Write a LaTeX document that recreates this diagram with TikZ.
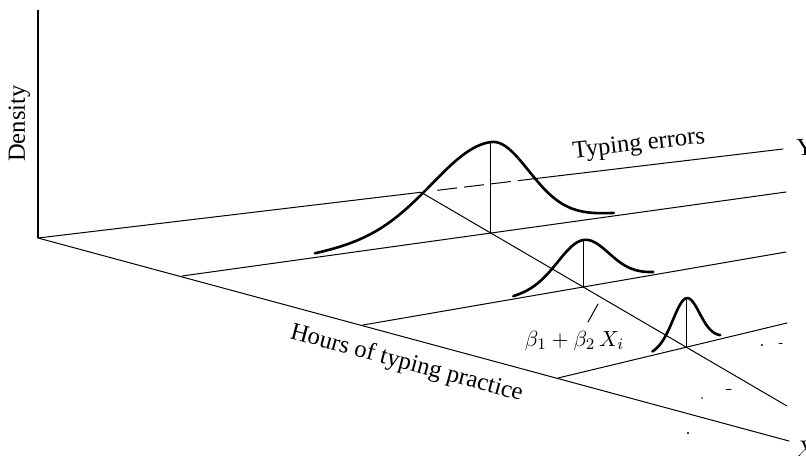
\documentclass[tikz,border=0pt]{standalone}
\usepackage{fontspec}
\setmainfont{Liberation Serif}
\usetikzlibrary{calc}
\tikzset{
  thinline/.style={line width=0.5pt, line cap=round},
  axisline/.style={line width=0.8pt},
  bell/.style={line width=1.3pt, line cap=round, smooth},
  hidden/.style={line width=0.5pt, dash pattern=on 10pt off 3.5pt},
  lbl/.style={inner sep=0pt, font=\fontsize{12.3}{14}\selectfont},
  mathlbl/.style={inner sep=0pt, font=\fontsize{11.2}{13}\selectfont},
  speck/.style={fill=black, draw=none}
}
\begin{document}
\begin{tikzpicture}[x=0.5pt, y=-0.5pt]
\useasboundingbox (0,0) rectangle (806,455);
% frame coordinates
\coordinate (O) at (38,238);
\coordinate (Vtop) at (38,10);
\coordinate (Yend) at (783,149);
\coordinate (Xend) at (789,441);
\coordinate (L2a) at (182,276); \coordinate (L2b) at (786,192);
\coordinate (L3a) at (363,325); \coordinate (L3b) at (786,252);
\coordinate (L4a) at (558,378); \coordinate (L4b) at (787,323);
\coordinate (R0) at ($(O)!0.514!(Yend)$);
\coordinate (Dstart) at ($(O)!0.536!(Yend)$);
\coordinate (Dend) at ($(O)!0.663!(Yend)$);
\coordinate (Rend) at (787,406);
\coordinate (F1) at (intersection of R0--Rend and L2a--L2b);
\coordinate (F2) at (intersection of R0--Rend and L3a--L3b);
\coordinate (F3) at (intersection of R0--Rend and L4a--L4b);
\coordinate (P1) at ($(F1)+(0,-91)$);
\coordinate (P2) at ($(F2)+(0,-47)$);
\coordinate (P3) at ($(F3)+(0,-49)$);
\coordinate (ptA) at (588,322);
\coordinate (ptB) at (598,304);

% axes
\draw[axisline] (Vtop) -- (O);
\draw[thinline] (O) -- (R0);
\draw[hidden] (Dstart) -- (Dend);
\draw[thinline] (Dend) -- (Yend);
\draw[thinline] (O) -- (Xend);
% lines parallel to the Y axis
\draw[thinline] (L2a) -- (L2b);
\draw[thinline] (L3a) -- (L3b);
\draw[thinline] (L4a) -- (L4b);
% regression line
\draw[thinline] (R0) -- (Rend);
% vertical lines at means
\draw[thinline] (F1) -- (P1);
\draw[thinline] (F2) -- (P2);
\draw[thinline] (F3) -- (P3);

% bell curves
\begin{scope}[shift={(F1)}]
\draw[bell] plot[domain=-176:0, samples=70] ({\x}, {-0.13907*\x - 91*(0.88*exp(-0.5*(\x/58)*(\x/58)) + 0.12*exp(-0.125*(\x/58)*(\x/58)))})
  -- plot[domain=0:123, samples=50] ({\x}, {-0.13907*\x - 91*(0.88*exp(-0.5*(\x/37)*(\x/37)) + 0.12*exp(-0.125*(\x/37)*(\x/37)))});
\end{scope}
\begin{scope}[shift={(F2)}]
\draw[bell] plot[domain=-70:70, samples=70] ({\x}, {-0.17258*\x - 47*(0.88*exp(-0.5*(\x/25)*(\x/25)) + 0.12*exp(-0.125*(\x/25)*(\x/25)))});
\end{scope}
\begin{scope}[shift={(F3)}]
\draw[bell] plot[domain=-34:34, samples=60] ({\x}, {-0.24017*\x - 49*(0.88*exp(-0.5*(\x/13)*(\x/13)) + 0.12*exp(-0.125*(\x/13)*(\x/13)))});
\end{scope}

% pointer
\draw[thinline] (ptA) -- (ptB);

% labels
\node[lbl, rotate=90, anchor=base] (dens) at (25,123.5) {Density};
\node[lbl, rotate=6.5, anchor=base] (terr) at (639.5,150.5) {Typing errors};
\node[lbl, rotate=-15.1, anchor=base] (hours) at (405,369.5) {Hours of typing practice};
\node[lbl, anchor=base west] (ylab) at (796,155) {Y};
\node[lbl, anchor=base west] (xlab) at (795,457) {$X$};
\node[mathlbl, anchor=base] (beta) at (574.5,346) {$\beta_1 + \beta_2\, X_i$};

% scan specks
\fill[speck] (762,345) circle (1.2);
\fill[speck] (688,433) circle (1.2);
\fill[speck] (702,398) circle (0.9);
\draw[thinline] (726,389) -- (731,389);
\draw[thinline] (779,343) -- (782,343);
\end{tikzpicture}
\end{document}
